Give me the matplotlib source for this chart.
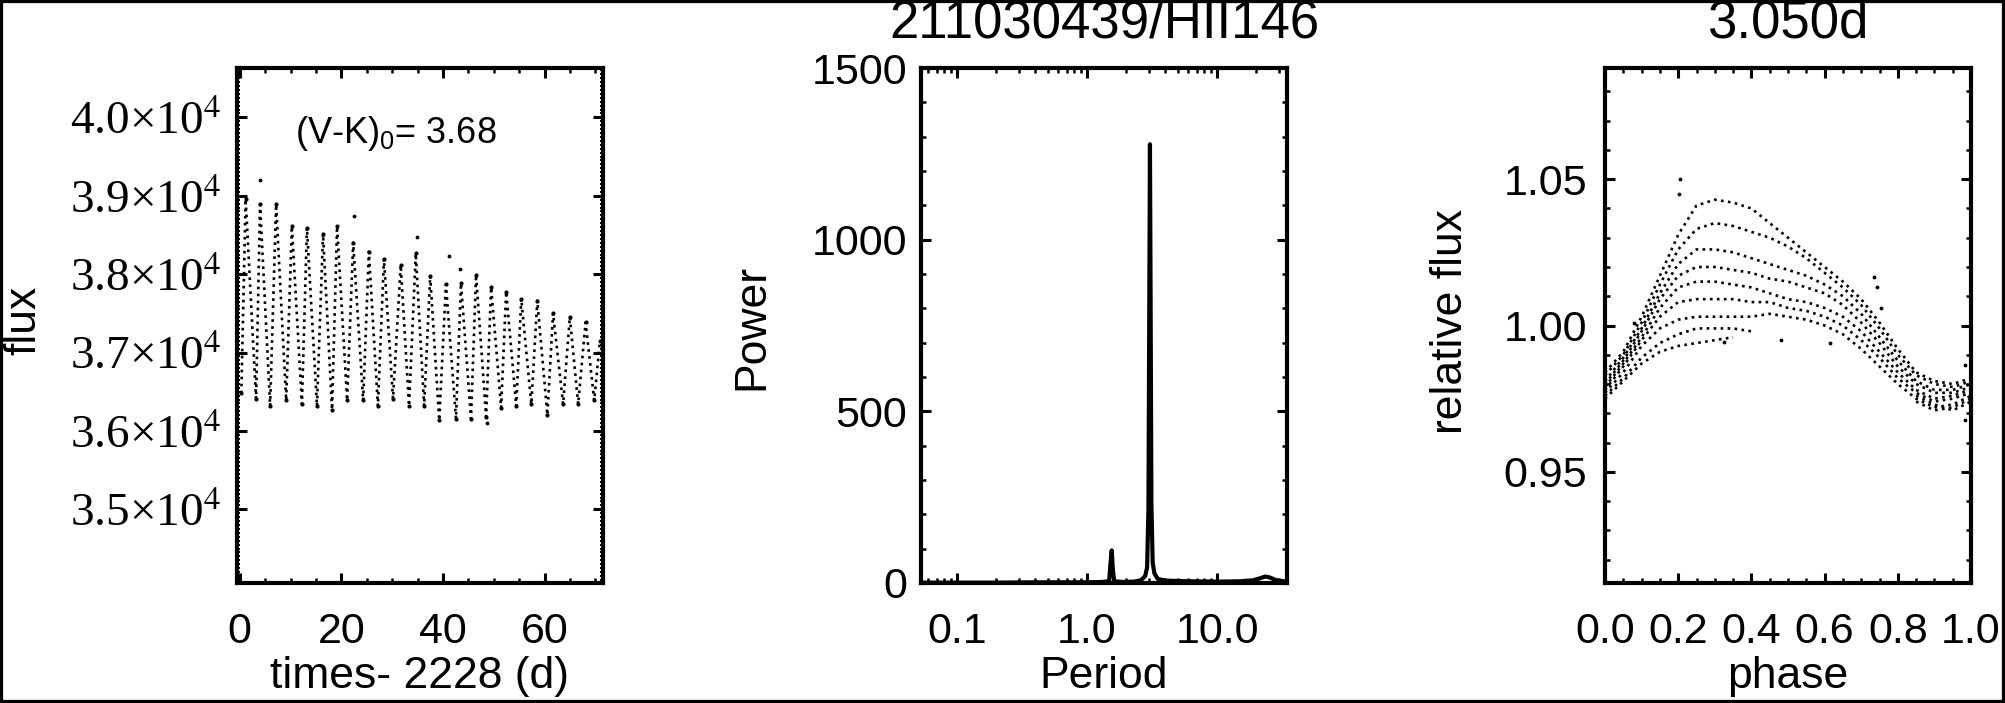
import numpy as np
import matplotlib
matplotlib.use("Agg")
import matplotlib.pyplot as plt
from matplotlib.ticker import MultipleLocator, LogLocator, NullFormatter
from matplotlib.patches import Rectangle

plt.rcParams["font.family"] = ["Liberation Sans", "DejaVu Sans"]
plt.rcParams["mathtext.fontset"] = "custom"
plt.rcParams["mathtext.rm"] = "Liberation Sans"
plt.rcParams["mathtext.it"] = "Liberation Sans:italic"

# ============
# data
# ============
# light curve: trough / peak turning points of each cycle (days, flux)
lc_time = [0.30, 1.15, 3.20, 3.99, 5.97, 7.15, 9.13, 10.25, 12.23, 13.22, 15.19,
           16.39, 18.16, 19.15, 21.13, 22.32, 24.29, 25.41, 27.19, 28.38, 30.16,
           31.68, 33.32, 34.64, 36.29, 37.48, 39.26, 40.58, 42.56, 43.54, 45.52,
           46.51, 48.49, 49.48, 51.45, 52.44, 54.42, 55.41, 57.39, 58.57, 60.55,
           61.67, 63.65, 64.97, 66.61, 68.07, 69.78, 70.90]
lc_flux = [36480, 38958, 36412, 38889, 36319, 38889, 36389, 38611, 36342, 38588, 36319,
           38509, 36272, 38611, 36389, 38403, 36389, 38287, 36319, 38194, 36412,
           38116, 36319, 38264, 36319, 37977, 36134, 37870, 36157, 37884, 36157,
           37995, 36180, 37833, 36296, 37778, 36319, 37685, 36342, 37662, 36203,
           37500, 36342, 37454, 36342, 37384, 36389, 37150]
lc_out_time = [4.0, 22.45, 34.84, 41.1, 43.4, 48.7]
lc_out_flux = [39199, 38741, 38472, 38231, 38065, 36097]
flux_ticks = [35000, 36000, 37000, 38000, 39000, 40000]
flux_ticklabels = ["3.5×10$^{4}$", "3.6×10$^{4}$", "3.7×10$^{4}$",
                   "3.8×10$^{4}$", "3.9×10$^{4}$", "4.0×10$^{4}$"]

# periodogram
pg_period = [0.053, 0.07, 0.1, 0.2, 0.4, 0.7, 1.0, 1.3, 1.48, 1.52, 1.55, 1.58, 1.62,
             1.9, 2.3, 2.6, 2.8, 2.9, 2.97, 3.01, 3.05, 3.09, 3.13, 3.2, 3.3, 3.5,
             4.0, 6.0, 10.0, 15.0, 19.0, 21.5, 23.5, 25.5, 28.0, 31.0, 34.5]
pg_power = [1, 1, 1, 1, 2, 2, 2, 3, 5, 60, 95, 40, 5,
            3, 4, 8, 20, 45, 220, 750, 1278, 760, 230, 60, 28, 12,
            7, 5, 4, 5, 8, 14, 19, 16, 9, 6, 4]
period_ticks = [0.1, 1.0, 10.0]
period_ticklabels = ["0.1", "1.0", "10.0"]

# phase-folded tracks (one per group of cycles)
phase = [0.00, 0.05, 0.10, 0.15, 0.20, 0.25, 0.30, 0.35, 0.40, 0.45, 0.50,
         0.55, 0.60, 0.65, 0.70, 0.75, 0.80, 0.85, 0.90, 0.95, 1.00]
nan = np.nan
tracks = [
    [0.984, 0.991, 1.003, 1.017, 1.031, 1.041, 1.043, 1.042, 1.040, 1.035, 1.030,
     1.025, 1.020, 1.015, 1.009, 1.001, 0.992, 0.984, 0.981, 0.980, 0.982],
    [0.983, 0.990, 1.001, 1.014, 1.026, 1.033, 1.035, 1.034, 1.032, 1.030, 1.027,
     1.023, 1.018, 1.013, 1.007, 0.999, 0.990, 0.983, 0.980, 0.979, 0.981],
    [0.981, 0.989, 0.999, 1.011, 1.021, 1.026, 1.026, 1.025, 1.023, 1.021, 1.019,
     1.017, 1.014, 1.010, 1.004, 0.996, 0.988, 0.981, 0.978, 0.978, 0.980],
    [0.980, 0.988, 0.998, 1.009, 1.017, 1.020, 1.020, 1.019, 1.018, 1.016, 1.015,
     1.013, 1.011, 1.007, 1.001, 0.994, 0.986, 0.980, 0.977, 0.977, 0.979],
    [0.979, 0.987, 0.996, 1.006, 1.013, 1.015, 1.015, 1.014, 1.013, 1.011, 1.009,
     1.008, 1.006, 1.003, 0.998, 0.991, 0.984, 0.978, 0.975, 0.976, 0.978],
    [0.978, 0.986, 0.995, 1.003, 1.008, 1.009, 1.009, 1.009, 1.008, 1.008, 1.006,
     1.005, 1.003, 1.000, 0.995, 0.989, 0.982, 0.977, 0.974, 0.975, 0.977],
    [0.977, 0.984, 0.993, 0.999, 1.002, 1.003, 1.003, 1.003, 1.003, 1.004, 1.003,
     1.002, 1.000, 0.997, 0.992, 0.986, 0.980, 0.975, 0.972, 0.973, 0.976],
    [0.976, 0.982, 0.989, 0.994, 0.997, 0.999, 0.999, 0.999, 0.998, nan, nan,
     nan, nan, nan, nan, nan, nan, 0.974, 0.971, 0.972, 0.975],
    [0.975, 0.981, 0.987, 0.991, 0.993, 0.994, 0.995, 0.996, nan, nan, nan,
     nan, nan, nan, nan, nan, nan, 0.976, 0.973, 0.971, 0.974],
]
ph_out_phase = [0.205, 0.202, 0.734, 0.743, 0.755, 0.984, 0.983, 0.482, 0.615, 0.326, 0.078]
ph_out_flux = [1.050, 1.0448, 1.0167, 1.013, 1.006, 0.9866, 0.9676, 0.995, 0.994, 0.9944, 1.001]
phase_ticks = [0.0, 0.2, 0.4, 0.6, 0.8, 1.0]
phase_ticklabels = ["0.0", "0.2", "0.4", "0.6", "0.8", "1.0"]
rel_ticks = [0.95, 1.00, 1.05]
rel_ticklabels = ["0.95", "1.00", "1.05"]

# ============
# layout
# ============
W, H = 2005, 703
fig = plt.figure(figsize=(W / 100, H / 100), dpi=100)


def px_rect(left, right, top=68, bottom=583):
    return [left / W, 1 - bottom / H, (right - left) / W, (bottom - top) / H]


def style(ax, pad_x, pad_y):
    for s in ax.spines.values():
        s.set_linewidth(3.0)
    ax.tick_params(which="both", direction="in", top=True, right=True,
                   labelsize=31, width=2.2)
    ax.tick_params(which="major", length=7.5)
    ax.tick_params(which="minor", length=3.8, width=1.8)
    ax.tick_params(axis="x", pad=pad_x)
    ax.tick_params(axis="y", pad=pad_y)


ax1 = fig.add_axes(px_rect(237, 603))
ax2 = fig.add_axes(px_rect(921, 1287))
ax3 = fig.add_axes(px_rect(1605, 1971))

# ---light curve---
ax1.plot(lc_time, lc_flux, color="k", ls=":", lw=1.9)
ax1.plot(lc_time, lc_flux, "k.", ms=4)
ax1.plot(lc_out_time, lc_out_flux, "k.", ms=3.5)
ax1.set_xlim(-0.55, 71.5)
ax1.set_ylim(34060, 40630)
ax1.xaxis.set_major_locator(MultipleLocator(20))
ax1.xaxis.set_minor_locator(MultipleLocator(5))
ax1.set_yticks(flux_ticks)
ax1.set_yticklabels(flux_ticklabels, fontfamily="Liberation Serif",
                    math_fontfamily="stix")
ax1.yaxis.set_minor_locator(MultipleLocator(50))
style(ax1, 21, 11)
ax1.tick_params(axis="y", which="major", labelsize=34)
ax1.tick_params(axis="y", which="minor", length=2.5, width=1.4)

# ---periodogram---
ax2.set_xscale("log")
ax2.plot(pg_period, pg_power, color="k", lw=3.0)
ax2.set_xlim(0.053, 34.5)
ax2.set_ylim(0, 1500)
ax2.set_xticks(period_ticks)
ax2.set_xticklabels(period_ticklabels)
ax2.xaxis.set_minor_locator(LogLocator(base=10, subs=np.arange(2, 10) * 1.0, numticks=20))
ax2.xaxis.set_minor_formatter(NullFormatter())
ax2.yaxis.set_major_locator(MultipleLocator(500))
ax2.yaxis.set_minor_locator(MultipleLocator(100))
style(ax2, 21, 10)

# ---phase folded---
for tr in tracks:
    ax3.plot(phase, tr, color="k", ls=":", lw=1.9)
ax3.plot(ph_out_phase, ph_out_flux, "k.", ms=3.5)
ax3.set_xlim(0, 1)
ax3.set_ylim(0.912, 1.088)
ax3.set_xticks(phase_ticks)
ax3.set_xticklabels(phase_ticklabels)
ax3.xaxis.set_minor_locator(MultipleLocator(0.05))
ax3.set_yticks(rel_ticks)
ax3.set_yticklabels(rel_ticklabels)
ax3.yaxis.set_minor_locator(MultipleLocator(0.01))
style(ax3, 21, 13)

# ---texts---
fig.text(24 / W, 1 - 320 / H, "flux", rotation=90, ha="center", va="center", fontsize=32)
fig.text(752 / W, 1 - 327 / H, "Power", rotation=90, ha="center", va="center", fontsize=32)
fig.text(1451 / W, 1 - 322 / H, "relative flux", rotation=90, ha="center", va="center", fontsize=32)
fig.text(420 / W, 1 - 688 / H, "times- 2228 (d)", ha="center", va="baseline", fontsize=32)
fig.text(1104 / W, 1 - 688 / H, "Period", ha="center", va="baseline", fontsize=32)
fig.text(1788 / W, 1 - 688 / H, "phase", ha="center", va="baseline", fontsize=32)
fig.text(1104 / W, 1 - 37 / H, "211030439/HII146", ha="center", va="baseline", fontsize=38)
fig.text(1788 / W, 1 - 37 / H, "3.050d", ha="center", va="baseline", fontsize=38)
fig.text(295 / W, 1 - 143 / H, r"(V-K)$_\mathrm{0}$= 3.68", ha="left", va="baseline", fontsize=26)

# frame round the whole figure
fig.patches.append(Rectangle((0, 0), 1, 1, transform=fig.transFigure, fill=False,
                             edgecolor="k", lw=4.5, clip_on=False))

fig.savefig("out.png", dpi=100)
